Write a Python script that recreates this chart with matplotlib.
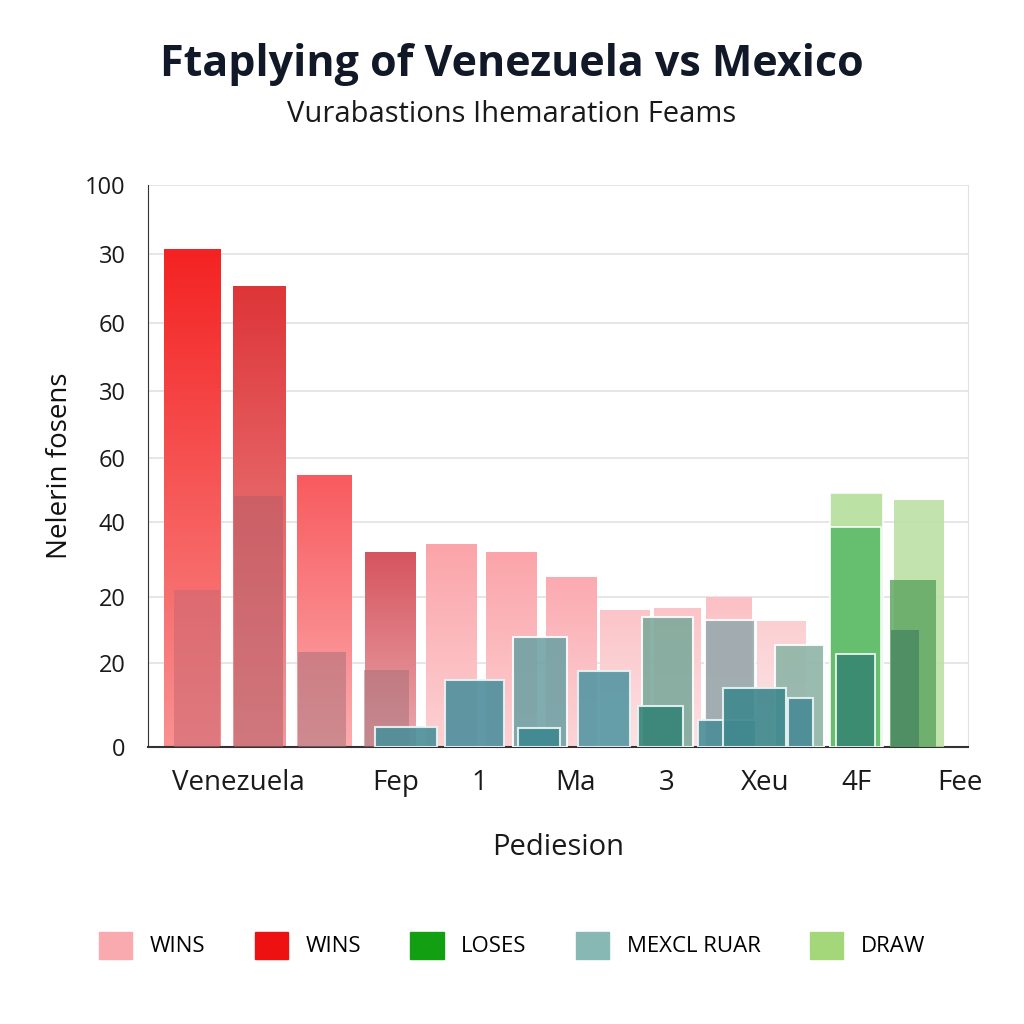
import matplotlib.pyplot as plt
import numpy as np
from matplotlib.colors import LinearSegmentedColormap, to_rgb

plt.rcParams['font.family'] = ['Open Sans', 'DejaVu Sans']

# red / pink "wins" bars (gradient)
win_x = [5.43, 13.6, 21.5, 29.6, 37.0, 44.3, 51.6, 58.2, 64.6, 70.9, 77.3]
win_w = [6.95, 6.46, 6.7, 6.2, 6.2, 6.1, 6.1, 6.0, 5.7, 5.6, 5.9]
win_val = [88.6, 82.0, 48.4, 34.7, 36.1, 34.7, 30.2, 24.4, 24.7, 26.7, 22.4]
win_top = ['#f42222', '#de3538', '#f85a5e', '#d6545e', '#fba4a9', '#fba4a9',
           '#fbaab0', '#fbc4c8', '#fbc4c8', '#fbc0c4', '#fbcfd2']

# darker overlays inside the red bars
ovl_x = [5.98, 13.5, 21.2, 29.1]
ovl_w = [5.6, 6.0, 5.85, 5.4]
ovl_val = [27.9, 44.7, 16.9, 13.7]
ovl_color = ['#c86872', '#b85c66', '#a87078', '#a87078']

# mexico bars (tall, grey / grey-green)
mex_x = [47.8, 63.4, 71.0, 79.5]
mex_w = [6.6, 6.3, 6.1, 6.0]
mex_val = [19.6, 23.1, 22.6, 18.1]
mex_color = ['#72a2a6', '#7eaa9c', '#98a9ad', '#8fb5a8']

# mexico bars (small, teal)
sml_x = [31.5, 39.8, 47.7, 55.6, 62.5, 70.6, 74.0, 79.6]
sml_w = [7.56, 7.2, 5.1, 6.3, 5.5, 7.1, 7.6, 3.0]
sml_val = [3.6, 11.9, 3.4, 13.5, 7.3, 4.8, 10.5, 8.7]
sml_color = ['#4e8f99', '#52909e', '#3f8890', '#5898a4', '#378578',
             '#4c8e98', '#40898e', '#4a8c96']

# draw bars (greens)
drw_x = [86.4, 86.3, 86.3, 94.1, 93.3, 92.4]
drw_w = [6.5, 6.3, 4.8, 6.1, 5.6, 3.4]
drw_val = [45.2, 39.1, 16.5, 43.9, 29.7, 20.8]
drw_color = ['#b8e0a0', '#62be6c', '#3a8a72', '#b8df9f', '#62a864', '#4a8a62']

xtick_pos = [11.0, 30.2, 40.4, 52.2, 63.3, 75.3, 86.4, 99.0]
xtick_lab = ['Venezuela', 'Fep', '1', 'Ma', '3', 'Xeu', '4F', 'Fee']
ytick_pos = [0, 15, 26.7, 40, 51.4, 63.3, 75.4, 87.7, 100]
ytick_lab = ['0', '20', '20', '40', '60', '30', '60', '30', '100']

legend_lab = ['WINS', 'WINS', 'LOSES', 'MEXCL RUAR', 'DRAW']
legend_col = ['#f9aaaf', '#ee1111', '#12a012', '#88b8b4', '#a4d77a']


def lighten(c, f):
    r = np.array(to_rgb(c))
    return tuple(r + (1 - r) * f)


fig = plt.figure(figsize=(10.24, 10.24), dpi=100)
ax = fig.add_axes([0.1445, 0.2705, 0.8005, 0.549])
ax.set_xlim(0, 100)
ax.set_ylim(0, 100)

# gradient bars
grad = np.linspace(0, 1, 256).reshape(-1, 1)
for x, w, v, c in zip(win_x, win_w, win_val, win_top):
    b = ax.bar(x, v, width=w, color='none', linewidth=0, zorder=2)[0]
    cmap = LinearSegmentedColormap.from_list('g', [lighten(c, 0.5), c])
    im = ax.imshow(grad, extent=[x - w / 2, x + w / 2, 0, v], origin='lower',
                   cmap=cmap, aspect='auto', zorder=2)
    im.set_clip_path(b)

ax.bar(ovl_x, ovl_val, width=ovl_w, color=ovl_color, alpha=0.55, linewidth=0, zorder=3)
ax.bar(mex_x, mex_val, width=mex_w, color=mex_color, alpha=0.9,
       edgecolor='white', linewidth=1.5, zorder=4)
ax.bar(sml_x, sml_val, width=sml_w, color=sml_color, alpha=0.92,
       edgecolor='#e8f4f4', linewidth=1.5, zorder=5)
ax.bar(drw_x[:3], drw_val[:3], width=drw_w[:3], color=drw_color[:3], alpha=0.95,
       edgecolor='white', linewidth=1.2, zorder=4)
ax.bar(drw_x[3:], drw_val[3:], width=drw_w[3:], color=drw_color[3:], alpha=0.85,
       linewidth=0, zorder=4)

ax.set_yticks(ytick_pos)
ax.set_yticklabels(ytick_lab, fontsize=17, color='#1a1a1a')
ax.set_xticks(xtick_pos)
ax.set_xticklabels(xtick_lab, fontsize=20, color='#1a1a1a')
ax.tick_params(length=0, pad=16)
ax.tick_params(axis='x', pad=16)
ax.grid(axis='y', color='#e2e2e2', linewidth=1.2, zorder=0)
ax.set_axisbelow(True)
ax.spines['top'].set_visible(False)
ax.spines['right'].set_color('#e2e2e2')
ax.spines['left'].set_color('#333333')
ax.spines['bottom'].set_color('#333333')
ax.spines['bottom'].set_linewidth(1.5)

ax.set_xlabel('Pediesion', fontsize=21, color='#1a1a1a', labelpad=26)
ax.set_ylabel('Nelerin fosens', fontsize=20, color='#111111', labelpad=8)

fig.text(0.5, 0.937, 'Ftaplying of Venezuela vs Mexico', ha='center', va='center',
         fontsize=31, fontweight='bold', color='#111827')
fig.text(0.5, 0.888, 'Vurabastions Ihemaration Feams', ha='center', va='center',
         fontsize=21, color='#1a1a1a')

handles = [plt.Rectangle((0, 0), 1, 1, color=c) for c in legend_col]
fig.legend(handles, legend_lab, loc='center', bbox_to_anchor=(0.5, 0.077), ncol=5,
           frameon=False, fontsize=16, handlelength=1.5, handleheight=1.5,
           columnspacing=2.2, handletextpad=0.8)

fig.savefig('out.png', dpi=100, facecolor='white')
